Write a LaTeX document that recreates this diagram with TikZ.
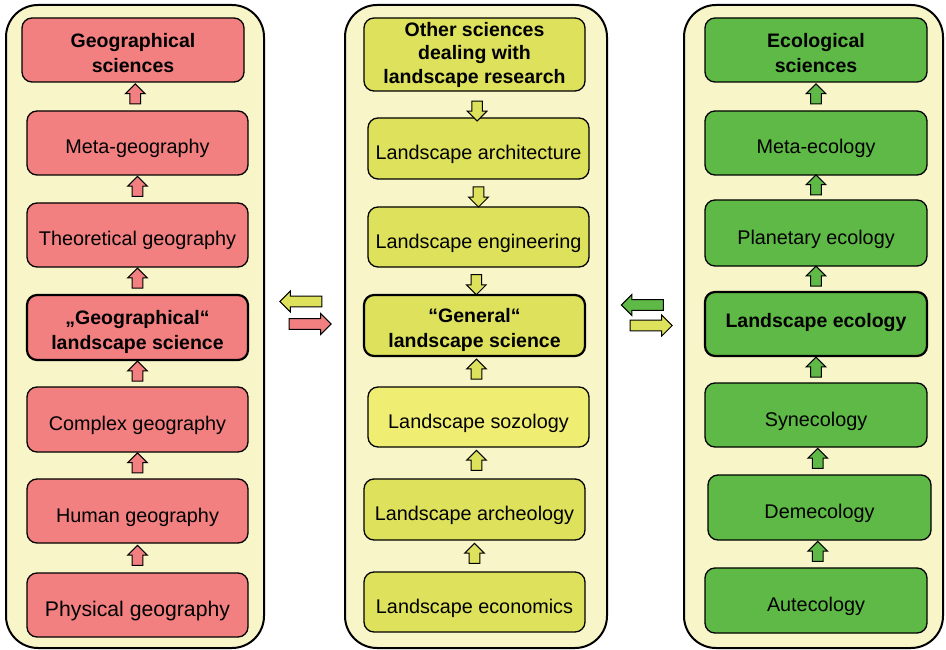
\documentclass[tikz,border=0pt]{standalone}
\usepackage{fontspec}
\setmainfont{Liberation Sans}
\usetikzlibrary{shapes.arrows,calc}

\definecolor{geored}{HTML}{F28080}
\definecolor{landyellow}{HTML}{DDE15C}
\definecolor{sozoyellow}{HTML}{EFEE72}
\definecolor{ecogreen}{HTML}{5EB946}
\definecolor{panelbg}{HTML}{F8F5C8}

\begin{document}
\begin{tikzpicture}[x=1pt,y=-1pt,
  panel/.style={draw,line width=2pt,fill=panelbg,rounded corners=32pt},
  main node/.style={draw,line width=1.3pt,rounded corners=10pt,inner sep=0pt,align=center,
    font=\fontsize{19.8}{25}\selectfont,minimum width=221pt,minimum height=64pt,
    text height=22pt,text depth=0pt},
  head node/.style={main node,font=\fontsize{19.5}{25}\selectfont\bfseries,
    text height=47pt,text depth=4pt},
  key node/.style={head node,line width=2.2pt},
  up arrow/.style={draw,line width=1pt,single arrow,shape border rotate=90,inner sep=4.8pt,
    minimum width=19pt,minimum height=20pt,single arrow head extend=4.5pt},
  down arrow/.style={up arrow,shape border rotate=270},
  side arrow/.style={draw,line width=1pt,single arrow,inner sep=4.8pt,
    minimum width=21pt,minimum height=42pt,single arrow head extend=5pt}]

  \useasboundingbox (0,0) rectangle (946,650);

  % panels
  \node[panel,minimum width=258pt,minimum height=643pt] (geopanel) at (135,326.5) {};
  \node[panel,minimum width=262pt,minimum height=643pt] (landpanel) at (476,326.5) {};
  \node[panel,minimum width=259pt,minimum height=643pt] (ecopanel) at (813.5,326.5) {};

  % geography
  \node[head node,fill=geored,minimum width=222pt,text height=50pt] (g1) at (133,50) {Geographical\\sciences};
  \node[main node,fill=geored] (g2) at (137.5,143) {Meta-geography};
  \node[main node,fill=geored] (g3) at (137.5,235) {Theoretical geography};
  \node[key node,fill=geored,minimum height=65pt,text height=48pt] (g4) at (137.5,327.5) {„Geographical“\\landscape science};
  \node[main node,fill=geored,minimum height=65pt] (g5) at (137.5,419.5) {Complex geography};
  \node[main node,fill=geored] (g6) at (137.5,511) {Human geography};
  \node[main node,fill=geored,font=\fontsize{21.2}{25}\selectfont] (g7) at (137.5,605) {Physical geography};

  % landscape research
  \node[head node,fill=landyellow,minimum height=73pt,font=\fontsize{19.5}{23.5}\selectfont\bfseries,
    text height=,text depth=] (m1) at (474.5,54.5)
    {Other sciences\\dealing with\\landscape research};
  \node[main node,fill=landyellow,minimum height=61pt] (m2) at (478.5,148.5) {Landscape architecture};
  \node[main node,fill=landyellow,minimum height=60pt] (m3) at (478.5,237) {Landscape engineering};
  \node[key node,fill=landyellow,minimum height=61pt] (m4) at (474.5,325.5) {“General“\\landscape science};
  \node[main node,fill=sozoyellow,minimum height=60pt] (m5) at (478.5,417) {Landscape sozology};
  \node[main node,fill=landyellow,minimum height=61pt] (m6) at (474.5,509.5) {Landscape archeology};
  \node[main node,fill=landyellow,minimum height=60pt] (m7) at (474.5,602) {Landscape economics};

  % ecology
  \node[head node,fill=ecogreen,minimum width=222pt,text height=49pt] (e1) at (816,50) {Ecological\\sciences};
  \node[main node,fill=ecogreen,minimum width=222pt] (e2) at (816,143) {Meta-ecology};
  \node[main node,fill=ecogreen,minimum width=222pt,minimum height=66pt] (e3) at (816,233) {Planetary ecology};
  \node[key node,fill=ecogreen,minimum width=222pt,text height=11pt,text depth=4pt] (e4) at (816,324) {Landscape ecology};
  \node[main node,fill=ecogreen,minimum width=222pt] (e5) at (816,415) {Synecology};
  \node[main node,fill=ecogreen,minimum width=223pt,minimum height=65pt] (e6) at (819.5,507.5) {Demecology};
  \node[main node,fill=ecogreen,minimum width=222pt,minimum height=65pt] (e7) at (816,600.5) {Autecology};

  % arrows inside the panels
  \node[up arrow,fill=geored] (ga1) at ($(g1.south)!0.5!(g2.north)$) {};
  \node[up arrow,fill=geored] (ga2) at ($(g2.south)!0.5!(g3.north)$) {};
  \node[up arrow,fill=geored] (ga3) at ($(g3.south)!0.5!(g4.north)$) {};
  \node[up arrow,fill=geored] (ga4) at ($(g4.south)!0.5!(g5.north)$) {};
  \node[up arrow,fill=geored] (ga5) at ($(g5.south)!0.5!(g6.north)$) {};
  \node[up arrow,fill=geored] (ga6) at ($(g6.south)!0.5!(g7.north)$) {};

  \node[down arrow,fill=landyellow] (ma1) at ($(m1.south)!0.65!(m2.north)$) {};
  \node[down arrow,fill=landyellow] (ma2) at ($(m2.south)!0.55!(m3.north)$) {};
  \node[down arrow,fill=landyellow] (ma3) at ($(m3.south)!0.55!(m4.north)$) {};
  \node[up arrow,fill=landyellow] (ma4) at ($(m4.south)!0.5!(m5.north)$) {};
  \node[up arrow,fill=landyellow] (ma5) at ($(m5.south)!0.5!(m6.north)$) {};
  \node[up arrow,fill=landyellow] (ma6) at ($(m6.south)!0.5!(m7.north)$) {};

  \node[up arrow,fill=ecogreen] (ea1) at ($(e1.south)!0.5!(e2.north)$) {};
  \node[up arrow,fill=ecogreen] (ea2) at ($(e2.south)!0.5!(e3.north)$) {};
  \node[up arrow,fill=ecogreen] (ea3) at ($(e3.south)!0.5!(e4.north)$) {};
  \node[up arrow,fill=ecogreen] (ea4) at ($(e4.south)!0.5!(e5.north)$) {};
  \node[up arrow,fill=ecogreen] (ea5) at ($(e5.south)!0.5!(e6.north)$) {};
  \node[up arrow,fill=ecogreen] (ea6) at ($(e6.south)!0.5!(e7.north)$) {};

  % arrows between the panels
  \node[side arrow,fill=landyellow,shape border rotate=180] (mg) at (303.5,301.5) {};
  \node[side arrow,fill=geored] (gm) at (307.5,324) {};
  \node[side arrow,fill=ecogreen,shape border rotate=180] (em) at (645,305) {};
  \node[side arrow,fill=landyellow] (me) at (648.5,325.5) {};
\end{tikzpicture}
\end{document}
